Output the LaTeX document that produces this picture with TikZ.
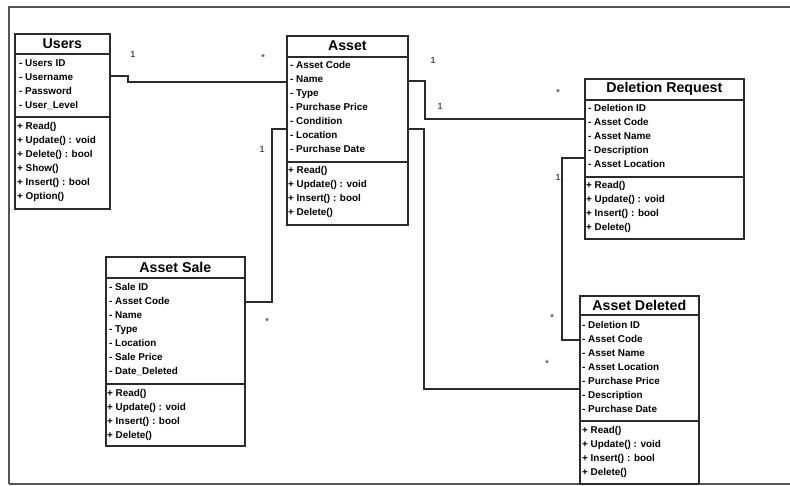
\documentclass[tikz,border=0pt]{standalone}
\usepackage{fontspec}
\setmainfont{Liberation Sans}
\usetikzlibrary{calc}
\definecolor{ink}{HTML}{2B2B2B}
\definecolor{soft}{HTML}{555555}

% class box: name, left, top, right, bottom, header bottom, divider, title
\newcommand{\drawclass}[8]{%
  \node[classbox, minimum width={#4-#2}, minimum height={#5-#3}] (#1) at (#2,#3) {};
  \draw[divider] (#1.west |- 0,#6) -- (#1.east |- 0,#6);
  \draw[divider] (#1.west |- 0,#7) -- (#1.east |- 0,#7);
  \node[classtitle] (#1-title) at ($(#1.north)!0.5!(#1.north |- 0,#6)$) {#8};
}
% compartment rows: prefix, x, first y, list of entries
\newcommand{\classrows}[4]{%
  \foreach \txt [count=\i] in {#4} {\node[row] (#1\i) at (#2,{#3+14*(\i-1)}) {\txt};}
}

\begin{document}
\begin{tikzpicture}[x=1pt,y=-1pt,
  classbox/.style={draw=ink, line width=1.7pt, inner sep=0pt, anchor=north west},
  divider/.style={draw=ink, line width=1.5pt},
  classtitle/.style={font=\fontsize{14.2}{14}\selectfont\bfseries, inner sep=0pt},
  row/.style={font=\fontsize{9.9}{10}\selectfont\bfseries, inner sep=0pt, anchor=west,
    text height=7pt, text depth=2pt},
  conn/.style={draw=ink, line width=1.6pt},
  mult/.style={font=\fontsize{9}{9}\selectfont\bfseries, text=soft, inner sep=0pt},
  frame/.style={draw=soft, line width=1.3pt}]
\useasboundingbox (0,0) rectangle (790,485);

% outer frame
\coordinate (fr-bl) at (9,484);
\coordinate (fr-tl) at (9,7);
\coordinate (fr-tr) at (790,7);
\coordinate (fr-br) at (790,484);
\draw[frame] (fr-bl) -- (fr-tl) -- (fr-tr);
\draw[frame] (fr-bl) -- (fr-br);

% classes
\drawclass{users}{14}{33}{109}{208}{54}{117}{Users}
\classrows{users-a}{19}{64}{- Users ID,- Username,- Password,- User\_Level}
\classrows{users-m}{17}{127}{+ Read(),+ Update() : void,+ Delete() : bool,+ Show(),+ Insert() : bool,+ Option()}

\drawclass{asset}{286}{35}{407}{224}{57}{162}{Asset}
\classrows{asset-a}{290}{66}{- Asset Code,- Name,- Type,- Purchase Price,- Condition,- Location,- Purchase Date}
\classrows{asset-m}{288}{171}{+ Read(),+ Update() : void,+ Insert() : bool,+ Delete()}

\drawclass{delreq}{584}{78}{743}{238}{100}{177}{Deletion Request}
\classrows{delreq-a}{588}{109}{- Deletion ID,- Asset Code,- Asset Name,- Description,- Asset Location}
\classrows{delreq-m}{586}{186}{+ Read(),+ Update() : void,+ Insert() : bool,+ Delete()}

\drawclass{sale}{105}{256}{244}{445}{278}{384}{Asset Sale}
\classrows{sale-a}{109}{288}{- Sale ID,- Asset Code,- Name,- Type,- Location,- Sale Price,- Date\_Deleted}
\classrows{sale-m}{107}{394}{+ Read(),+ Update() : void,+ Insert() : bool,+ Delete()}

\drawclass{deleted}{579}{295}{698}{483}{315}{421}{Asset Deleted}
\classrows{deleted-a}{582}{326}{- Deletion ID,- Asset Code,- Asset Name,- Asset Location,- Purchase Price,- Description,- Purchase Date}
\classrows{deleted-m}{582}{431}{+ Read(),+ Update() : void,+ Insert() : bool,+ Delete()}

% associations
\draw[conn] ($(users-a2 -| users.east)+(0,-2)$) -- ++(17,0)
  |- ($(asset-a2 -| asset.west)+(0,2)$);
\draw[conn] ($(asset-a2 -| asset.east)+(0,1)$) -- ++(16,0)
  |- ($(delreq-a2 -| delreq.west)+(0,-4)$);
\draw[conn] ($(asset-a5 -| asset.west)!0.5!(asset-a6 -| asset.west)$) -- ++(-14,0)
  |- (sale-a2 -| sale.east);
\draw[conn] ($(asset-a5 -| asset.east)!0.5!(asset-a6 -| asset.east)$) -- ++(15,0)
  |- ($(deleted-a5 -| deleted.west)!0.5!(deleted-a6 -| deleted.west)$);
\draw[conn] ($(delreq-a4 -| delreq.west)!0.5!(delreq-a5 -| delreq.west)$) -- ++(-22,0)
  |- (deleted-a2 -| deleted.west);

% multiplicities
\node[mult] (mu1) at (133,54) {1};
\node[mult] (mu2) at (263,57) {*};
\node[mult] (mu3) at (433,60) {1};
\node[mult] (mu4) at (440,106) {1};
\node[mult] (mu5) at (558,92) {*};
\node[mult] (mu6) at (262,149) {1};
\node[mult] (mu7) at (267,321) {*};
\node[mult] (mu8) at (558,177) {1};
\node[mult] (mu9) at (552,317) {*};
\node[mult] (mu10) at (547,363) {*};
\end{tikzpicture}
\end{document}
